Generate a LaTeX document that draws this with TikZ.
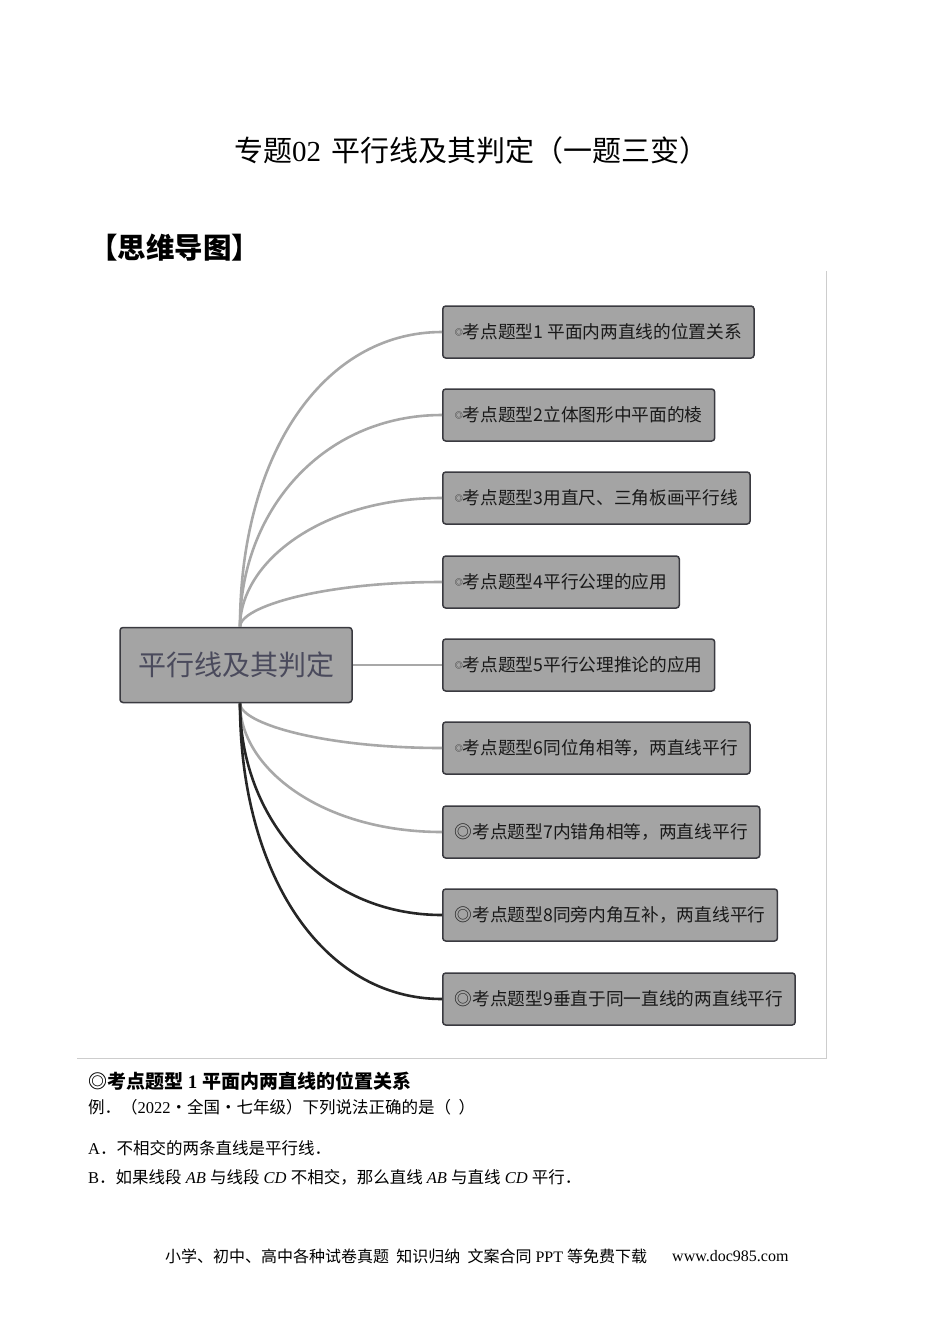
\documentclass[tikz,border=0pt]{standalone}
\usepackage{fontspec}
\setmainfont{Liberation Serif}
\newfontfamily\cjk{Noto Sans CJK SC}
\usetikzlibrary{positioning}
\definecolor{boxgray}{HTML}{A4A4A4}
\definecolor{rimdark}{HTML}{3A3A40}
\definecolor{rootink}{HTML}{4A4A5C}
\definecolor{litewire}{HTML}{A8A8A8}
\definecolor{darkwire}{HTML}{262626}
\definecolor{framegray}{HTML}{CDCDCD}
\newcommand{\smallring}{\raisebox{3.5pt}{\fontsize{8}{8}\selectfont ◎}}
\begin{document}
\begin{tikzpicture}[x=1pt,y=-1pt,
    topic/.style={draw=rimdark,fill=boxgray,rounded corners=3pt,line width=1.5pt,
      minimum height=52pt,inner xsep=12pt,anchor=west,text=black!90,
      font=\cjk\fontsize{17.7}{20}\selectfont},
    lite/.style={draw=litewire,line width=2.6pt},
    heavy/.style={draw=darkwire,line width=2.6pt},
    bodytext/.style={anchor=west,inner sep=0pt,font=\fontsize{16.5}{19}\selectfont}]
\useasboundingbox (0,0) rectangle (950,1344);

% title and heading
\node (title) at (471,150) {\fontsize{29}{33}\selectfont{\cjk 专题}02\hspace{10pt}{\cjk 平行线及其判定（一题三变）}};
\node[anchor=west,inner sep=0pt] (mmhead) at (89,248) {\fontsize{28.5}{32}\selectfont\cjk\bfseries 【思维导图】};

% frame of the map
\draw[framegray,line width=1pt] (826,271) -- (826,1058) -- (77,1058);

% root
\node[draw=rimdark,fill=boxgray,rounded corners=3pt,line width=1.5pt,minimum width=232pt,
  minimum height=75pt,text=rootink,font=\cjk\fontsize{28}{32}\selectfont] (root) at (236,665) {平行线及其判定};

% branches
\node[topic] (t1) at (442,332) {\smallring 考点题型1 平面内两直线的位置关系};
\node[topic] (t2) at (442,415) {\smallring 考点题型2立体图形中平面的棱};
\node[topic] (t3) at (442,498) {\smallring 考点题型3用直尺、三角板画平行线};
\node[topic] (t4) at (442,582) {\smallring 考点题型4平行公理的应用};
\node[topic] (t5) at (442,665) {\smallring 考点题型5平行公理推论的应用};
\node[topic] (t6) at (442,748) {\smallring 考点题型6同位角相等，两直线平行};
\node[topic] (t7) at (442,832) {◎考点题型7内错角相等，两直线平行};
\node[topic] (t8) at (442,915) {◎考点题型8同旁内角互补，两直线平行};
\node[topic] (t9) at (442,999) {◎考点题型9垂直于同一直线的两直线平行};

% wires
\draw[lite] ([xshift=4pt]root.north) .. controls +(0,-170) and +(-120,0) .. (t1.west);
\draw[lite] ([xshift=4pt]root.north) .. controls +(0,-115) and +(-120,0) .. (t2.west);
\draw[lite] ([xshift=4pt]root.north) .. controls +(0,-65) and +(-120,0) .. (t3.west);
\draw[lite] ([xshift=4pt]root.north) .. controls +(0,-20) and +(-120,0) .. (t4.west);
\draw[lite] (root.east) -- (t5.west);
\draw[lite] ([xshift=4pt]root.south) .. controls +(0,20) and +(-120,0) .. (t6.west);
\draw[lite] ([xshift=4pt]root.south) .. controls +(0,65) and +(-120,0) .. (t7.west);
\draw[heavy] ([xshift=4pt]root.south) .. controls +(0,115) and +(-120,0) .. (t8.west);
\draw[heavy] ([xshift=4pt]root.south) .. controls +(0,170) and +(-120,0) .. (t9.west);

% text under the map
\node[bodytext,font=\fontsize{19}{22}\selectfont] (qhead) at (88,1081) {\cjk\bfseries ◎考点题型{\rmfamily\bfseries\ 1 }平面内两直线的位置关系};
\node[bodytext] (qstem) at (88,1107) {{\cjk 例．（}2022{\cjk ·全国·七年级）下列说法正确的是（\ \ ）}};
\node[bodytext] (qa) at (88,1148) {A{\cjk ．不相交的两条直线是平行线．}};
\node[bodytext] (qb) at (88,1177) {B{\cjk ．如果线段} \textit{AB} {\cjk 与线段} \textit{CD} {\cjk 不相交，那么直线} \textit{AB} {\cjk 与直线} \textit{CD} {\cjk 平行．}};

% footer
\node[bodytext,font=\fontsize{16}{19}\selectfont] (foot) at (165,1256) {{\cjk 小学、初中、高中各种试卷真题\ \ 知识归纳\ \ 文案合同} PPT {\cjk 等免费下载}};
\node[bodytext,font=\fontsize{16}{19}\selectfont] (site) at (672,1256) {www.doc985.com};
\end{tikzpicture}
\end{document}
